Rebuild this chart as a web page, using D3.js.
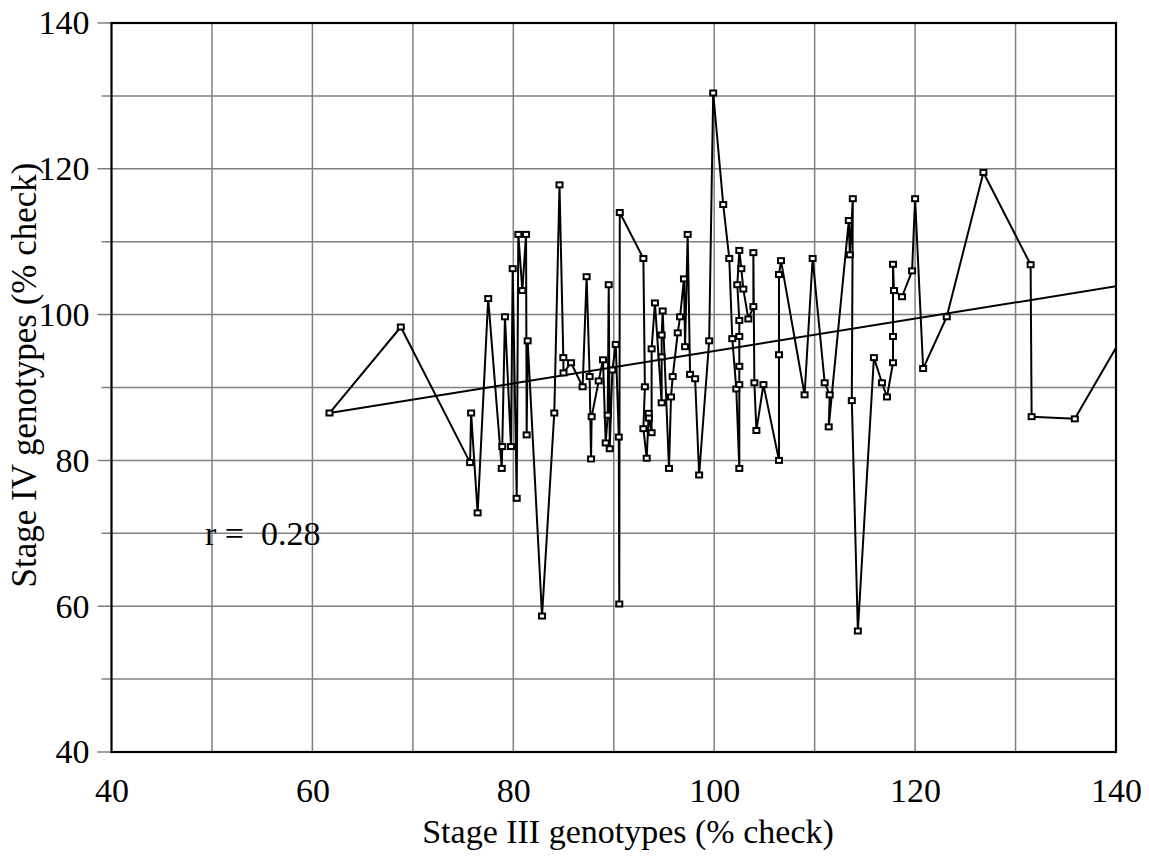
<!DOCTYPE html>
<html>
<head>
<meta charset="utf-8">
<script src="https://cdn.jsdelivr.net/npm/d3@7"></script>
<style>
  body { margin: 0; background: #fff; }
  svg text { font-family: "Liberation Serif", "Times New Roman", serif; fill: #000; }
</style>
</head>
<body>
<div id="chart"></div>
<script>
// stage III vs stage IV genotype yields, in the order the line joins them
let stage3 = [61.7, 68.8, 75.7, 75.8, 76.45, 77.5, 78.85, 78.9, 79.17, 79.77, 79.94, 80.34, 80.5, 80.9, 81.27, 81.33, 81.43, 82.86,
  84.08, 84.6, 84.98, 85.0, 85.75, 86.9, 87.3, 87.6, 87.74, 87.8, 88.5, 88.93, 89.2, 89.4, 89.5, 89.6, 89.86, 90.2, 90.5, 90.55, 90.6,
  92.95, 93.1, 92.95, 93.28, 93.48, 93.5, 93.77, 93.77, 94.1, 94.77, 94.77, 94.77, 94.87, 95.5, 95.7, 95.87, 96.37, 96.6, 96.99, 97.1,
  97.36, 97.6, 98.1, 98.5, 99.5, 99.9, 100.9, 101.5, 101.8, 102.2, 102.5, 102.5, 102.5, 102.5, 102.5, 102.3, 102.5, 102.7, 102.9,
  103.4, 103.9, 103.9, 104.0, 104.2, 104.9, 106.45, 106.45, 106.45, 106.65, 109.0, 109.8, 111.0, 111.5, 111.4, 113.4, 113.5, 113.8,
  113.7, 114.3, 115.9, 116.7, 117.2, 117.8, 117.8, 117.8, 117.9, 118.7, 119.7, 120.0, 120.8, 123.15, 126.8, 131.5, 131.6, 135.9, 143.0];
let stage4 = [86.5, 98.3, 79.7, 86.5, 72.8, 102.2, 78.9, 81.9, 99.7, 81.9, 106.3, 74.8, 111.0, 103.3, 111.0, 83.5, 96.4, 58.65,
  86.5, 117.8, 94.1, 92.0, 93.4, 90.1, 105.2, 91.5, 80.2, 86.0, 90.9, 93.8, 82.4, 86.2, 104.1, 81.6, 92.4, 95.9, 83.2, 60.3, 114.0,
  107.7, 90.1, 84.35, 80.3, 86.45, 85.8, 83.8, 95.3, 101.6, 87.9, 94.2, 97.2, 100.5, 78.9, 88.7, 91.5, 97.5, 99.7, 104.9, 95.6,
  111.0, 91.8, 91.2, 78.0, 96.4, 130.4, 115.1, 107.7, 96.7, 89.8, 78.9, 90.4, 92.9, 97.0, 99.2, 104.1, 108.8, 106.3, 103.5,
  99.4, 101.1, 108.5, 90.65, 84.1, 90.4, 80.0, 94.5, 105.5, 107.4, 89.0, 107.7, 90.65, 89.0, 84.6, 112.9, 108.2, 115.9,
  88.2, 56.6, 94.1, 90.65, 88.7, 93.4, 97.0, 106.9, 103.3, 102.45, 106.0, 115.9, 92.6, 99.7, 119.5, 106.85, 86.0, 85.7, 102.6];

// fitted regression line ends
let fitX = [61.7, 143];
let fitY = [86.5, 104.55];

let xLabels = [40, 60, 80, 100, 120, 140];
let yLabels = [40, 60, 80, 100, 120, 140];
let gridValues = [50, 60, 70, 80, 90, 100, 110, 120, 130];
let yTickValues = [40, 50, 60, 70, 80, 90, 100, 110, 120, 130, 140];
let rLabel = "r =  0.28";

let serif = "Liberation Serif, Times New Roman, serif";
let width = 1149, height = 863;
let margin = ({top: 23, right: 33, bottom: 111, left: 111.5});

let x = d3.scaleLinear().domain([40, 140]).range([margin.left, width - margin.right]);
let y = d3.scaleLinear().domain([40, 140]).range([height - margin.bottom, margin.top]);

let svg = d3.select("#chart").append("svg")
    .attr("width", width)
    .attr("height", height);

svg.append("defs").append("clipPath").attr("id", "plot")
  .append("rect")
    .attr("x", x(40)).attr("y", y(140))
    .attr("width", x(140) - x(40)).attr("height", y(40) - y(140));

// grid
svg.append("g")
    .attr("stroke", "#808080")
    .attr("stroke-width", 1.5)
    .selectAll("line")
    .data(gridValues)
    .join("line")
    .attr("x1", d => x(d)).attr("x2", d => x(d))
    .attr("y1", y(140)).attr("y2", y(40));

svg.append("g")
    .attr("stroke", "#808080")
    .attr("stroke-width", 1.5)
    .selectAll("line")
    .data(yTickValues)
    .join("line")
    .attr("x1", d => yLabels.includes(d) ? x(40) - 14 : x(40) - 10)
    .attr("x2", d => (d === 40 || d === 140) ? x(40) : x(140))
    .attr("y1", d => y(d)).attr("y2", d => y(d));

// frame
svg.append("rect")
    .attr("x", x(40)).attr("y", y(140))
    .attr("width", x(140) - x(40)).attr("height", y(40) - y(140))
    .attr("fill", "none")
    .attr("stroke", "#000")
    .attr("stroke-width", 2.2);

// axes labels
svg.append("g")
    .attr("transform", `translate(0,${y(40)})`)
    .call(d3.axisBottom(x).tickValues(xLabels).tickSize(0).tickPadding(26))
    .attr("font-family", serif)
    .attr("font-size", 34)
    .call(g => g.select(".domain").remove());

svg.append("g")
    .attr("transform", `translate(${x(40) - 22},0)`)
    .call(d3.axisLeft(y).tickValues(yLabels).tickSize(0).tickPadding(0))
    .attr("font-family", serif)
    .attr("font-size", 34)
    .call(g => g.select(".domain").remove());

let plot = svg.append("g").attr("clip-path", "url(#plot)");

let pts = stage3.map((d, i) => [d, stage4[i]]);

plot.append("path")
    .datum(fitX.map((d, i) => [d, fitY[i]]))
    .attr("fill", "none")
    .attr("stroke", "#000")
    .attr("stroke-width", 2)
    .attr("d", d3.line().x(d => x(d[0])).y(d => y(d[1])));

plot.append("path")
    .datum(pts)
    .attr("fill", "none")
    .attr("stroke", "#000")
    .attr("stroke-width", 2)
    .attr("stroke-linejoin", "round")
    .attr("d", d3.line().x(d => x(d[0])).y(d => y(d[1])));

plot.append("g")
    .selectAll("rect")
    .data(pts)
    .join("rect")
    .attr("x", d => x(d[0]) - 3)
    .attr("y", d => y(d[1]) - 2.5)
    .attr("width", 6)
    .attr("height", 5)
    .attr("fill", "#fff")
    .attr("stroke", "#000")
    .attr("stroke-width", 2);

// titles
svg.append("text")
    .attr("x", 628)
    .attr("y", 843)
    .attr("text-anchor", "middle")
    .attr("font-size", 34)
    .text("Stage III genotypes (% check)");

svg.append("text")
    .attr("transform", `translate(36,375) rotate(-90)`)
    .attr("text-anchor", "middle")
    .attr("font-size", 35)
    .text("Stage IV genotypes (% check)");

svg.append("text")
    .attr("x", 205)
    .attr("y", 545)
    .attr("font-size", 34)
    .style("white-space", "pre")
    .text(rLabel);
</script>
</body>
</html>
